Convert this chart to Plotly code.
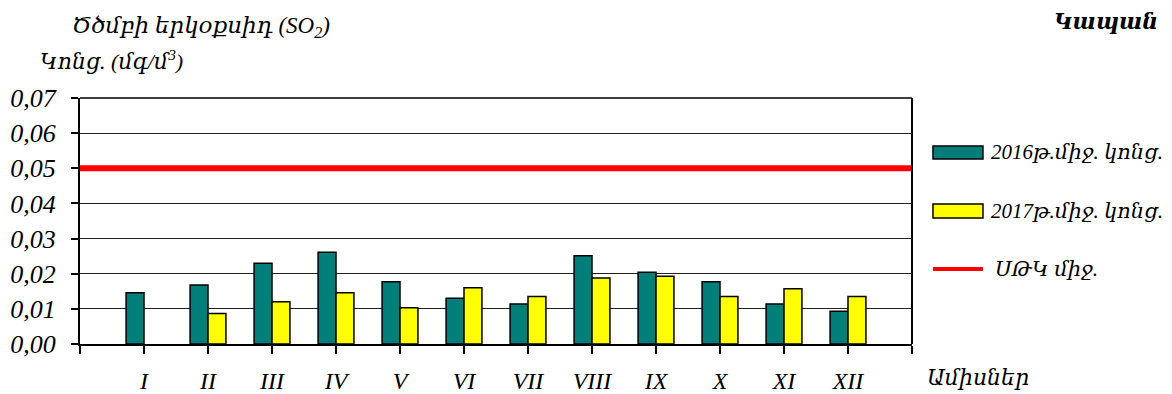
import plotly.graph_objects as go

# ---- data ----
months = ["I", "II", "III", "IV", "V", "VI", "VII", "VIII", "IX", "X", "XI", "XII"]
conc_2016 = [0.0146, 0.0168, 0.0230, 0.0261, 0.0177, 0.0130, 0.0114, 0.0251, 0.0204, 0.0177, 0.0114, 0.0093]
conc_2017 = [None, 0.0087, 0.0120, 0.0146, 0.0103, 0.0160, 0.0135, 0.0188, 0.0193, 0.0135, 0.0157, 0.0135]
limit_value = 0.05
y_ticks = [0.00, 0.01, 0.02, 0.03, 0.04, 0.05, 0.06, 0.07]

name_2016 = "2016թ.միջ. կոնց."
name_2017 = "2017թ.միջ. կոնց."
name_limit = "ՍԹԿ միջ."

positions = list(range(1, len(months) + 1))
x_range = [0, len(months) + 1]

FONT = "Liberation Serif, DejaVu Serif, serif"
TEAL = "#007F7A"
YELLOW = "#FFFF00"
RED = "#FF0000"

fig = go.Figure()
fig.add_trace(go.Bar(x=positions, y=conc_2016, name=name_2016,
                     marker=dict(color=TEAL, line=dict(color="black", width=1.5))))
fig.add_trace(go.Bar(x=positions, y=conc_2017, name=name_2017,
                     marker=dict(color=YELLOW, line=dict(color="black", width=1.5))))
fig.add_trace(go.Scatter(x=x_range, y=[limit_value, limit_value], mode="lines",
                         name=name_limit, line=dict(color=RED, width=6)))

# page body has an 8px default margin, so the figure is 8px smaller and offset
fig.update_layout(
    width=1164, height=386,
    margin=dict(l=72, r=260, t=90, b=50, autoexpand=False),
    paper_bgcolor="white", plot_bgcolor="white",
    barmode="group", bargap=0.44, bargroupgap=0,
    showlegend=False,
    separators=", ",
    font=dict(family=FONT, size=20, color="black", style="italic"),
)

fig.update_xaxes(
    range=x_range, tickmode="array",
    tickvals=positions, ticktext=months,
    ticks="outside", ticklen=8, tickwidth=1.5, tickcolor="black",
    minor=dict(tick0=0, dtick=1, ticks="outside", ticklen=8, tickwidth=1.5,
               tickcolor="black", showgrid=False),
    ticklabelstandoff=6, automargin=False,
    tickfont=dict(family=FONT, size=24, style="italic"),
    showline=True, linecolor="black", linewidth=2, mirror=False,
    showgrid=False, zeroline=False,
)
fig.update_yaxes(
    range=[0, 0.07], tickmode="array", tickvals=y_ticks,
    tickformat=".2f", automargin=False,
    ticks="outside", ticklen=7, tickwidth=1.5, tickcolor="black",
    ticklabelstandoff=10,
    tickfont=dict(family=FONT, size=26, style="italic"),
    showline=True, linecolor="black", linewidth=2,
    showgrid=True, gridcolor="#222222", gridwidth=1,
    zeroline=False,
)

# frame: top and right borders
fig.add_shape(type="line", xref="paper", yref="paper", x0=0, x1=1, y0=1, y1=1,
              line=dict(color="black", width=1.5))
fig.add_shape(type="line", xref="paper", yref="paper", x0=1, x1=1, y0=0, y1=1,
              line=dict(color="black", width=2))

# manual legend
legend_items = [
    (TEAL, name_2016, 0.752, 0.805),
    (YELLOW, name_2017, 0.512, 0.569),
]
for col, label, y0, y1 in legend_items:
    fig.add_shape(type="rect", xref="paper", yref="paper", x0=1.0252, x1=1.0853,
                  y0=y0, y1=y1, fillcolor=col, line=dict(color="black", width=1.5))
    fig.add_annotation(xref="paper", yref="paper", x=1.093, y=(y0 + y1) / 2,
                       text=label, showarrow=False, xanchor="left", yanchor="middle",
                       font=dict(family=FONT, size=21, style="italic"))
fig.add_shape(type="line", xref="paper", yref="paper", x0=1.0252, x1=1.0853,
              y0=0.305, y1=0.305, line=dict(color=RED, width=4))
fig.add_annotation(xref="paper", yref="paper", x=1.097, y=0.305,
                   text=name_limit, showarrow=False, xanchor="left", yanchor="middle",
                   font=dict(family=FONT, size=21, style="italic"))

# titles
fig.add_annotation(xref="paper", yref="paper", x=-0.012, y=1.29,
                   text="Ծծմբի երկօքսիդ (SO<sub>2</sub>)", showarrow=False,
                   xanchor="left", yanchor="middle",
                   font=dict(family=FONT, size=23, style="italic"))
fig.add_annotation(xref="paper", yref="paper", x=-0.0505, y=1.154,
                   text="Կոնց. (մգ/մ<sup>3</sup>)", showarrow=False,
                   xanchor="left", yanchor="middle",
                   font=dict(family=FONT, size=22, style="italic"))
fig.add_annotation(xref="paper", yref="paper", x=1.298, y=1.31,
                   text="<b>Կապան</b>", showarrow=False,
                   xanchor="right", yanchor="middle",
                   font=dict(family=FONT, size=22, style="italic"))
fig.add_annotation(xref="paper", yref="paper", x=1.0156, y=-0.138,
                   text="Ամիսներ", showarrow=False,
                   xanchor="left", yanchor="middle",
                   font=dict(family=FONT, size=22, style="italic"))

fig.write_html("out.html")
